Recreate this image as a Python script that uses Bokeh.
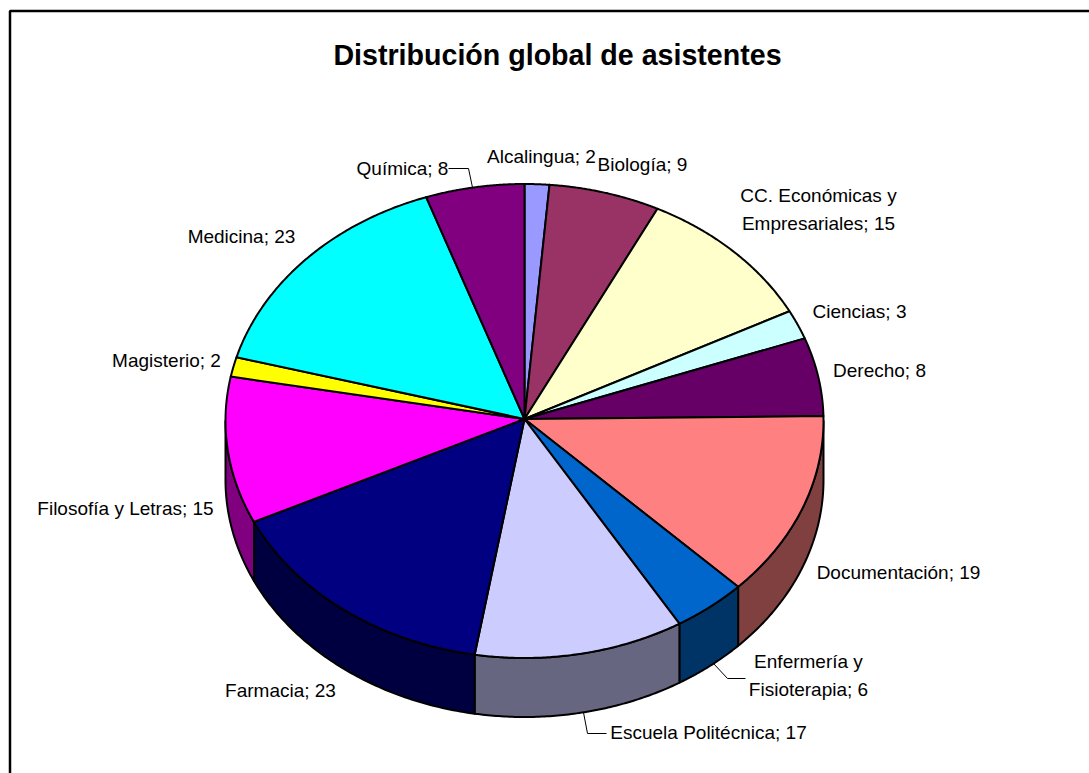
import numpy as np
from bokeh.plotting import figure
from bokeh.models import Range1d, ColumnDataSource
from bokeh.core.properties import value
from bokeh.embed import file_html
from bokeh.resources import INLINE

# Data
title = "Distribución global de asistentes"
categories = ["Alcalingua", "Biología", "CC. Económicas y\nEmpresariales", "Ciencias", "Derecho",
              "Documentación", "Enfermería y\nFisioterapia", "Escuela Politécnica", "Farmacia",
              "Filosofía y Letras", "Magisterio", "Medicina", "Química"]
values = [2, 9, 15, 3, 8, 19, 6, 17, 23, 15, 2, 23, 8]
top_colors = ["#9999FF", "#993366", "#FFFFCC", "#CCFFFF", "#660066", "#FF8080", "#0066CC",
              "#CCCCFF", "#000080", "#FF00FF", "#FFFF00", "#00FFFF", "#800080"]
side_colors = ["#4C4C80", "#4C1933", "#808066", "#668080", "#330033", "#804040", "#003366",
               "#666680", "#000040", "#800080", "#808000", "#008080", "#400040"]

# Label centres in page pixels
label_x = [541, 642, 818, 859, 879, 898, 808, 708, 280, 125, 166, 241, 402]
label_y = [156, 164, 209, 311, 370, 572, 675, 732, 690, 508, 360, 236, 168]

# Layout (page pixels)
CX, CY, RX, RY, DEPTH = 524, 420.5, 299, 237, 59
APEX_X, APEX_Y = 524, 418.5
FONT = "Liberation Sans"

p = figure(width=1089, height=773, output_backend="svg", toolbar_location=None,
           x_range=Range1d(0, 1089), y_range=Range1d(773, 0),
           min_border=0, outline_line_color=None, background_fill_color="white")
p.axis.visible = False
p.grid.visible = False

def ex(a):
    return CX + RX * np.sin(np.radians(a))
def ey(a):
    return CY - RY * np.cos(np.radians(a))

cum = np.concatenate([[0], np.cumsum(values)])
angles = cum * 360.0 / cum[-1]

# Front wall of the drum
sx, sy, sc = [], [], []
for a0, a1, c in zip(angles[:-1], angles[1:], side_colors):
    b0, b1 = max(a0, 90), min(a1, 270)
    if b1 <= b0:
        continue
    t = np.linspace(b0, b1, 80)
    sx.append(np.concatenate([ex(t), ex(t[::-1])]))
    sy.append(np.concatenate([ey(t), ey(t[::-1]) + DEPTH]))
    sc.append(c)
p.patches("x", "y", source=ColumnDataSource(dict(x=sx, y=sy, c=sc)), fill_color="c",
          line_color="black", line_width=2, line_join="round")

# Top of the pie
tx, ty = [], []
for a0, a1 in zip(angles[:-1], angles[1:]):
    t = np.linspace(a0, a1, 100)
    tx.append(np.concatenate([[APEX_X], ex(t)]))
    ty.append(np.concatenate([[APEX_Y], ey(t)]))
p.patches("x", "y", source=ColumnDataSource(dict(x=tx, y=ty, c=top_colors)), fill_color="c",
          line_color="black", line_width=2, line_join="round")

# Leader lines
p.multi_line([[448, 468, 472], [713, 727, 745], [583, 587, 606]],
             [[168, 168, 187], [663, 678, 678], [712, 733, 733]],
             line_color="black", line_width=1)

# Chart area border (only left and top fall inside the picture)
p.line([9.5, 9.5, 1089], [773, 10.5, 10.5], line_color="black", line_width=2.5)

# Labels
labels = [f"{c}; {v}" for c, v in zip(categories, values)]
p.text(label_x, label_y, text=labels, text_font=value(FONT), text_font_size="19px",
       text_color="#000000", text_align="center", text_baseline="middle", text_line_height=1.35)
p.text([557], [54.5], text=[title], text_font=value(FONT), text_font_size="28.6px",
       text_font_style="bold", text_color="#000000", text_align="center", text_baseline="middle")

open("out.html", "w").write(file_html(p, INLINE))
